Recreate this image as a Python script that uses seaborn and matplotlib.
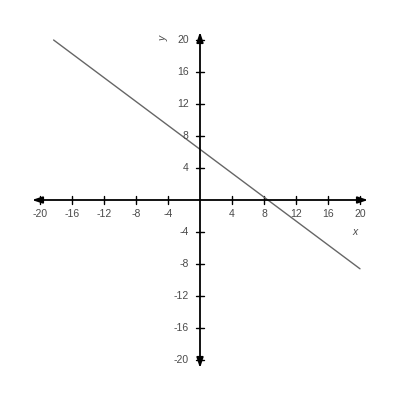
import numpy as np
import pandas as pd
import matplotlib
matplotlib.use("Agg")
import matplotlib.pyplot as plt
import seaborn as sns

# data
line_x = [-18.3, 20.0]
line_y = [20.0, -8.6]
x_ticks = [-20, -16, -12, -8, -4, 4, 8, 12, 16, 20]
y_ticks = [-20, -16, -12, -8, -4, 4, 8, 12, 16, 20]
x_label = "x"
y_label = "y"

sns.set_style("white")
plt.rcParams['font.family'] = ['Liberation Sans', 'DejaVu Sans']

fig = plt.figure(figsize=(4, 4), dpi=100)
ax = fig.add_axes([0, 0, 1, 1])
ax.set_xlim(-25, 25)
ax.set_ylim(-25, 25)
ax.axis("off")

# axes with arrows
arrow = dict(arrowstyle="<|-|>,head_length=0.6,head_width=0.2", color="black", lw=1.3,
             shrinkA=0, shrinkB=0)
ax.annotate("", xy=(21, 0), xytext=(-21, 0), arrowprops=arrow)
ax.annotate("", xy=(0, 21), xytext=(0, -21), arrowprops=arrow)

tl = 0.55
tc = "#4a4a4a"
for t in x_ticks:
    ax.plot([t, t], [-tl, tl], color="black", lw=1.0)
    ax.text(t, -1.7, str(t), ha="center", va="center", fontsize=7.5, color=tc)
for t in y_ticks:
    ax.plot([-tl, tl], [t, t], color="black", lw=1.0)
    ax.text(-1.4, t, str(t), ha="right", va="center", fontsize=7.5, color=tc)

ax.text(19.4, -4.0, x_label, ha="center", va="center", fontsize=7.5, color=tc, style="italic")
ax.text(-4.6, 20.2, y_label, ha="center", va="center", fontsize=7.5, color=tc,
        style="italic", rotation=90)

df = pd.DataFrame({"x": line_x, "y": line_y})
sns.lineplot(data=df, x="x", y="y", ax=ax, color="#666666", lw=1.0)
ax.set_xlim(-25, 25)
ax.set_ylim(-25, 25)
ax.axis("off")

fig.savefig("out.png", dpi=100, facecolor="white")
